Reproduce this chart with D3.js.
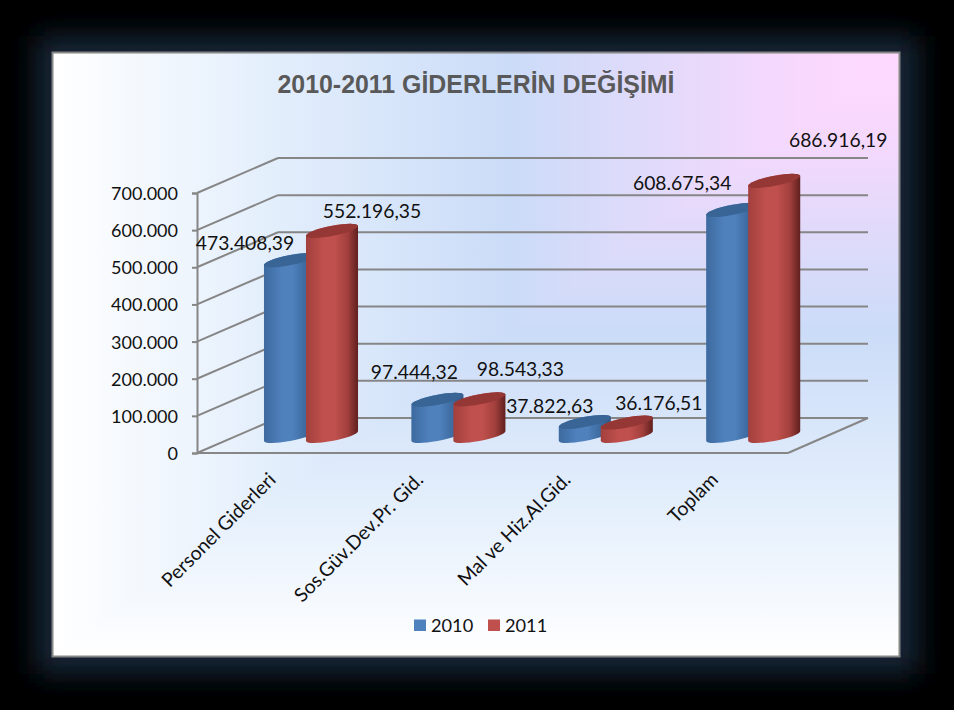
<!DOCTYPE html>
<html><head><meta charset="utf-8">
<script src="https://cdn.jsdelivr.net/npm/d3@7/dist/d3.min.js"></script>
<style>html,body{margin:0;padding:0;background:#000;overflow:hidden}svg{display:block}</style>
</head><body><svg id="c" width="954" height="710"></svg>
<script>
const categories = ["Personel Giderleri","Sos.Güv.Dev.Pr. Gid.","Mal ve Hiz.Al.Gid.","Toplam"];
const seriesNames = ["2010","2011"];
const values2010 = [473408.39,97444.32,37822.63,608675.34];
const values2011 = [552196.35,98543.33,36176.51,686916.19];
const labels2010 = ["473.408,39","97.444,32","37.822,63","608.675,34"];
const labels2011 = ["552.196,35","98.543,33","36.176,51","686.916,19"];
const yTicks = [0,100000,200000,300000,400000,500000,600000,700000];
const titleText = "2010-2011 GİDERLERİN DEĞİŞİMİ";

const FONT = "Lato, 'Open Sans', sans-serif", LABEL_SIZE = 19.3, TICK_SIZE = 18, CAT_SIZE = 19.4, LEG_SIZE = 18.2;
const svg = d3.select("#c"), defs = svg.append("defs");
const panel = {x:53,y:53,w:846,h:603};
const floor = {x0:197,x1:788,dx:81,dy:-35};
const y = d3.scaleLinear().domain([0,700000]).range([453,193]);
const x = d3.scaleBand().domain(categories).range([196.8,786.4]);
const seriesX = d3.scaleOrdinal().domain(seriesNames).range([-21,21]);
const palette = {
  "2010":{mid:"#4f81bd",edge:"#3d6a9f",dark:"#2f5582",top:"#386596",swatch:"#4f81bd"},
  "2011":{mid:"#c0504d",edge:"#a2403d",dark:"#5f1f1e",top:"#953735",swatch:"#c0504d"}
};
// label offsets from the top-centre of each cylinder
const nudge = {
  "2010":[[-45,-17],[-23,-28],[-35,-16],[-50,-27]],
  "2011":[[40,-20],[41,-30],[32,-20],[64,-41]]
};

// frame glow
const blur = defs.append("filter").attr("id","glow").attr("x","-20%").attr("y","-20%").attr("width","140%").attr("height","140%");
blur.append("feGaussianBlur").attr("stdDeviation",14);
svg.append("rect").attr("width",954).attr("height",710).attr("fill","#000");
svg.append("rect").attr("x",36).attr("y",36).attr("width",882).attr("height",638).attr("fill","#152638").attr("filter","url(#glow)");

// panel: rectangular gradient spreading from the top-right corner
const stops = [[0,"#ffd9ff"],[0.12,"#f8d8fd"],[0.46,"#cbdcf8"],[0.75,"#e4effc"],[1,"#ffffff"]];
function grad(id,a,b,c,d){
  const g = defs.append("linearGradient").attr("id",id).attr("gradientUnits","userSpaceOnUse")
    .attr("x1",a).attr("y1",b).attr("x2",c).attr("y2",d);
  stops.forEach(s=>g.append("stop").attr("offset",s[0]).attr("stop-color",s[1]));
}
const R = panel.x+panel.w, B = panel.y+panel.h;
grad("gH",R,panel.y,panel.x,panel.y);
grad("gV",R,panel.y,R,B);
svg.append("rect").attr("x",panel.x).attr("y",panel.y).attr("width",panel.w).attr("height",panel.h).attr("fill","url(#gH)");
svg.append("path").attr("d",`M${R},${panel.y}L${R},${B}L${panel.x},${B}Z`).attr("fill","url(#gV)");
svg.append("rect").attr("x",panel.x-0.5).attr("y",panel.y-0.5).attr("width",panel.w+1).attr("height",panel.h+1)
  .attr("fill","none").attr("stroke","#868686").attr("stroke-width",2);

// title
svg.append("text").attr("x",476).attr("y",93).attr("text-anchor","middle")
  .attr("font-family","'Liberation Sans',Arial,sans-serif").attr("font-weight","bold").attr("font-size",24.9)
  .attr("fill","#595959").text(titleText);

// walls
const GRID="#868686";
const wall = svg.append("g").attr("fill","none").attr("stroke",GRID).attr("stroke-width",2);
yTicks.forEach(t=>{
  wall.append("line").attr("x1",floor.x0).attr("y1",y(t)).attr("x2",floor.x0+floor.dx).attr("y2",y(t)+floor.dy);
  wall.append("line").attr("x1",floor.x0+floor.dx).attr("y1",y(t)+floor.dy).attr("x2",floor.x1+floor.dx-1).attr("y2",y(t)+floor.dy);
});
wall.append("line").attr("x1",floor.x1).attr("y1",y(0)).attr("x2",floor.x1+floor.dx-1).attr("y2",y(0)+floor.dy);
wall.append("line").attr("x1",floor.x0).attr("y1",y(0)).attr("x2",floor.x1).attr("y2",y(0));

// y axis
const fmt = d=>d3.format(",")(d).replace(/,/g,".");
const ax = svg.append("g").attr("transform",`translate(${floor.x0},0)`)
  .call(d3.axisLeft(y).tickValues(yTicks).tickFormat(fmt).tickSize(5).tickPadding(14));
ax.selectAll("path,line").attr("stroke",GRID).attr("stroke-width",2);
ax.selectAll("text").attr("font-family",FONT).attr("font-size",TICK_SIZE).attr("fill","#111").attr("dy","0.36em");

// x labels
svg.append("g").selectAll("text").data(categories).join("text")
  .attr("text-anchor","end").attr("font-family",FONT).attr("font-size",CAT_SIZE).attr("fill","#111")
  .attr("transform",d=>`translate(${x(d)+x.bandwidth()/2+6.5},${y(0)+28}) rotate(-45)`).text(d=>d);

// cylinders
const a=26.5,b=5,deg=-11,th=deg*Math.PI/180;
const tT=Math.atan(-(b/a)*Math.tan(th));
const tx=a*Math.cos(tT)*Math.cos(th)-b*Math.sin(tT)*Math.sin(th);
const ty=a*Math.cos(tT)*Math.sin(th)+b*Math.sin(tT)*Math.cos(th);
seriesNames.forEach(s=>{
  const p=palette[s], g=defs.append("linearGradient").attr("id","body"+s);
  [[0,p.edge],[0.35,p.mid],[0.55,p.mid],[0.8,p.edge],[1,p.dark]].forEach(q=>g.append("stop").attr("offset",q[0]).attr("stop-color",q[1]));
});
const baseY=y(0)+floor.dy/2+0.5;
const bars=svg.append("g");
const rows=[["2010",values2010,labels2010],["2011",values2011,labels2011]];
categories.forEach((c,i)=>{
  rows.forEach(([s,vals])=>{
    const cx=x(c)+x.bandwidth()/2+floor.dx/2+seriesX(s);
    const h=y(0)-y(vals[i]), top=baseY-h;
    bars.append("path").attr("fill",`url(#body${s})`)
      .attr("d",`M${cx-tx},${top-ty}L${cx-tx},${baseY-ty}A${a},${b},${deg},0,0,${cx+tx},${baseY+ty}L${cx+tx},${top+ty}A${a},${b},${deg},0,0,${cx-tx},${top-ty}Z`);
    bars.append("ellipse").attr("cx",0).attr("cy",0).attr("rx",a).attr("ry",b).attr("fill",palette[s].top)
      .attr("transform",`translate(${cx},${top}) rotate(${deg})`);
  });
});
// data labels
categories.forEach((c,i)=>{
  rows.forEach(([s,vals,labs])=>{
    const cx=x(c)+x.bandwidth()/2+floor.dx/2+seriesX(s);
    const top=baseY-(y(0)-y(vals[i]));
    svg.append("text").attr("x",cx+nudge[s][i][0]).attr("y",top+nudge[s][i][1]).attr("text-anchor","middle")
      .attr("dy","0.36em").attr("font-family",FONT).attr("font-size",LABEL_SIZE).attr("fill","#111").text(labs[i]);
  });
});
// legend
const legX=d3.scaleOrdinal().domain(seriesNames).range([414,488]);
const leg=svg.append("g").selectAll("g").data(seriesNames).join("g").attr("transform",d=>`translate(${legX(d)},625)`);
leg.append("rect").attr("x",0).attr("y",-5.5).attr("width",12).attr("height",11.5).attr("fill",d=>palette[d].swatch);
leg.append("text").attr("x",17).attr("dy","0.36em").attr("font-family",FONT).attr("font-size",LEG_SIZE).attr("fill","#111").text(d=>d);
</script></body></html>
